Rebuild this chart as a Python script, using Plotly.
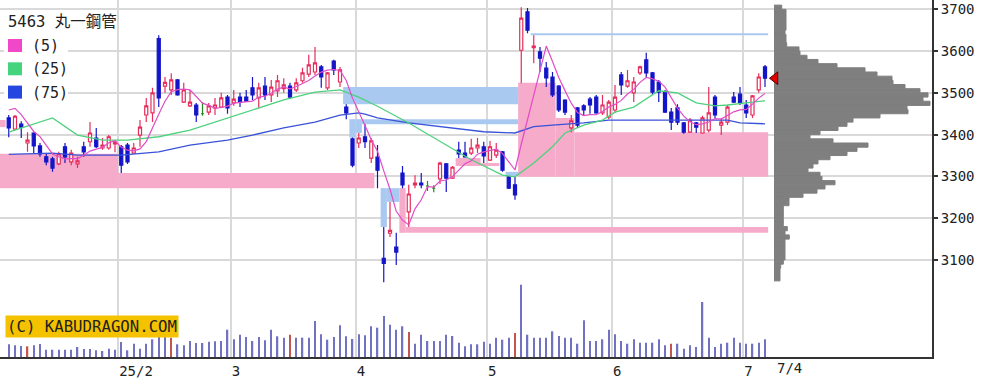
import plotly.graph_objects as go

# ---------------- data ----------------
opens = [3440,3413,3425,3380,3404,3373,3347,3342,3330,3371,
         3335,3330,3371,3383,3392,3368,3368,3378,3371,3375,
         3356,3399,3447,3452,3630,3516,3507,3531,3478,3469,
         3471,3450,3454,3464,3466,3490,3476,3490,3490,3512,
         3488,3516,3495,3505,3510,3516,3507,3529,3545,3550,
         3562,3512,3576,3526,3466,3390,3380,3395,3344,3346,
         3104,3164,3131,3308,3215,3280,3284,3277,3272,3294,
         3330,3296,3363,3356,3356,3368,3371,3339,3351,3359,
         3299,3280,3602,3694,3608,3598,3559,3538,3516,3483,
         3416,3464,3469,3485,3490,3452,3442,3459,3543,3516,
         3500,3548,3579,3548,3526,3502,3454,3464,3428,3406,
         3428,3404,3411,3490,3423,3430,3490,3497,3471,3447,
         3507,3562]
highs = [3447,3447,3432,3406,3406,3380,3356,3347,3359,3380,
         3364,3347,3383,3430,3416,3392,3399,3385,3375,3380,
         3380,3435,3488,3512,3638,3538,3547,3533,3524,3507,
         3476,3478,3476,3488,3500,3495,3507,3500,3507,3538,
         3524,3538,3531,3543,3535,3524,3535,3560,3591,3610,
         3567,3550,3579,3562,3473,3393,3404,3425,3392,3375,
         3179,3239,3165,3325,3280,3303,3308,3289,3279,3335,
         3332,3325,3383,3383,3390,3392,3383,3385,3380,3361,
         3301,3299,3705,3703,3638,3610,3574,3550,3519,3485,
         3447,3466,3473,3490,3495,3495,3483,3519,3550,3555,
         3538,3565,3596,3550,3531,3507,3464,3473,3430,3440,
         3430,3445,3514,3495,3440,3471,3502,3514,3483,3495,
         3547,3567]
lows = [3394,3411,3392,3359,3356,3347,3327,3311,3327,3332,
        3327,3320,3347,3371,3368,3364,3364,3358,3308,3330,
        3354,3371,3430,3430,3466,3500,3495,3493,3476,3466,
        3430,3445,3447,3447,3464,3450,3469,3466,3478,3483,
        3464,3483,3478,3490,3500,3486,3502,3524,3538,3543,
        3512,3507,3543,3514,3437,3322,3368,3368,3332,3272,
        3047,3155,3088,3272,3179,3272,3272,3265,3262,3282,
        3263,3294,3344,3345,3351,3356,3332,3337,3344,3311,
        3270,3244,3523,3643,3571,3550,3514,3490,3454,3447,
        3406,3416,3447,3450,3450,3447,3437,3452,3495,3512,
        3478,3543,3538,3495,3478,3452,3411,3423,3402,3404,
        3404,3402,3406,3440,3399,3423,3476,3471,3440,3440,
        3500,3514]
closes = [3416,3444,3418,3387,3373,3354,3335,3320,3354,3347,
          3356,3337,3359,3404,3371,3375,3395,3382,3327,3335,
          3368,3418,3469,3500,3488,3525,3531,3495,3507,3478,
          3447,3450,3469,3471,3488,3464,3485,3478,3480,3495,
          3512,3495,3514,3529,3519,3490,3524,3548,3567,3572,
          3538,3548,3555,3555,3452,3327,3392,3383,3385,3315,
          3092,3171,3119,3280,3258,3284,3280,3277,3272,3332,
          3296,3322,3354,3347,3368,3375,3349,3371,3363,3315,
          3272,3256,3679,3650,3612,3583,3536,3495,3459,3454,
          3433,3423,3459,3471,3452,3471,3478,3490,3519,3529,
          3526,3562,3548,3502,3502,3454,3430,3430,3406,3435,
          3418,3440,3452,3447,3430,3466,3478,3476,3452,3493,
          3538,3535]

# volume (thousand shares)
volumes = [127,117,110,107,117,130,73,73,73,73,
           73,100,80,80,67,60,83,73,150,67,
           133,83,133,177,217,210,193,127,117,160,
           140,140,153,157,160,273,177,223,200,160,
           200,167,273,207,193,223,193,193,193,360,
           227,173,200,317,207,180,227,217,307,293,
           410,323,273,307,250,133,223,160,160,160,
           223,210,143,107,127,127,153,133,193,173,
           193,240,723,223,193,193,193,257,210,193,
           193,133,367,160,160,177,273,227,160,133,
           177,143,143,143,177,117,133,133,83,117,
           100,550,193,100,133,143,193,143,133,133,
           143,177]
volume_red_days = [3, 26, 45, 64, 81, 106]

# moving averages
ma5 = [3459,3463,3448,3428,3407.6,3395.2,3373.4,3353.8,3347.2,3342,
       3342.4,3342.8,3350.6,3360.6,3365.4,3369.2,3380.8,3385.4,3370,3362.8,
       3361.4,3366,3383.4,3418,3448.6,3480,3502.6,3507.8,3509.2,3507.2,
       3491.6,3475.4,3470.2,3463,3465,3468.4,3475.4,3477.2,3479,3480.4,
       3490,3492,3499.2,3509,3513.8,3509.4,3515.2,3522,3529.6,3540.2,
       3549.8,3554.6,3556,3553.6,3529.6,3487.4,3456.2,3421.8,3387.8,3360.4,
       3313.4,3269.2,3216.4,3195.4,3184,3222.4,3244.2,3275.8,3274.2,3289,
       3291.4,3299.8,3315.2,3330.2,3337.4,3353.2,3358.6,3362,3365.2,3354.6,
       3334,3315.4,3377,3434.4,3493.8,3556,3612,3575.2,3537,3505.4,
       3475.4,3452.8,3445.6,3448,3447.6,3455.2,3466.2,3472.4,3482,3497.4,
       3508.4,3525.2,3536.8,3533.4,3528,3513.6,3487.2,3463.6,3444.4,3431,
       3423.8,3425.8,3430.2,3438.4,3437.4,3447,3454.6,3459.4,3460.4,3473,
       3487.4,3498.8]
ma25_days = [0,3,7,11,15,19,24,29,35,39,44,49,53,56,59,64,69,74,79,81,
             84,87,89,92,95,97,100,104,107,110,113,115,118,121]
ma25_vals = [3406,3420,3440,3399,3387,3387,3395,3411,3440,3458,3483,3502,3507,3490,3468,
             3428,3383,3340,3303,3299,3332,3371,3404,3423,3435,3454,3466,3505,3500,3476,
             3469,3471,3476,3481]
ma75_days = [0,7,11,18,24,29,35,39,44,49,53,56,57,59,64,71,76,81,84,87,92,96,115,117,121]
ma75_vals = [3353,3356,3351,3351,3359,3375,3387,3399,3416,3430,3447,3452,3449,3440,3428,
             3416,3407,3404,3419,3423,3428,3435,3435,3428,3426]

# price-by-volume profile
profile_prices = [3705,3695,3685,3675,3665,3655,3645,3635,3625,3615,
                  3605,3595,3585,3575,3565,3555,3545,3535,3525,3515,
                  3505,3495,3485,3475,3465,3455,3445,3435,3425,3415,
                  3405,3395,3385,3375,3365,3355,3345,3335,3325,3315,
                  3305,3295,3285,3275,3265,3255,3245,3235,3225,3215,
                  3205,3195,3185,3175,3165,3155,3145,3135,3125,3115,
                  3105,3095,3085,3075,3065,3055]
profile_volume = [7.7,12,12,12,12,12,11,12,12,12.7,
                  25,26,33,44,63,91,103,118,119,131,
                  146,154,149,156,133,134,106,79,73,64,
                  46,36,59,94,83,73,56,44,39,34,
                  46,48,61,51,43,29,15,15,9.3,9.3,
                  9.3,9.3,9.3,13.3,11,15.3,11,11,11,11,
                  11,9.3,6.7,6,6,6]

# price gaps (windows): start day, end day, low, high
gaps_up = [(-1.4, -0.5, 3418, 3435), (-1.4, 17.5, 3272, 3354), (17.5, 58.5, 3272, 3308),
           (62.5, 63.5, 3165, 3272), (63.5, 121.5, 3165, 3179), (71.5, 75.5, 3325, 3344),
           (75.5, 78.5, 3325, 3332), (81.5, 87.5, 3299, 3524), (87.5, 90.5, 3299, 3440),
           (90.5, 121.5, 3299, 3406)]
gaps_down = [(53.5, 81.5, 3473, 3514), (54.5, 55.5, 3393, 3437), (55.5, 56.5, 3404, 3437),
             (56.5, 81.5, 3425, 3437), (59.5, 60.5, 3179, 3272), (60.5, 62.5, 3239, 3272),
             (79.5, 81.5, 3301, 3311), (83.5, 121.5, 3638, 3643)]

month_bounds = [17.5, 35.5, 55.5, 76.5, 96.5, 117.5]
month_labels = ['25/2', '3', '4', '5', '6', '7']
last_date_label = '7/4'
price_ticks = [3100, 3200, 3300, 3400, 3500, 3600, 3700]
title_text = '5463 丸一鋼管'
ma_labels = ['(5)', '(25)', '(75)']
copyright_text = '(C) KABUDRAGON.COM'

# ---------------- style ----------------
RED = '#e62d5c'
BLUE = '#1414c8'
GREEN = '#1f8a1f'
MA5_C = '#e24cc6'
MA25_C = '#4ed27e'
MA75_C = '#3a52d8'
GRID = '#d9d9d9'
PROFILE_C = '#7f7f7f'
MONO = 'DejaVu Sans Mono, Noto Sans CJK JP'

PW, PH = 932, 357  # plot area in px


def px_x(p):
    return p / PW


def px_y(p):
    return 1 - p / PH


N = len(closes)
days = list(range(N))

fig = go.Figure()

# volume
vol_colors = ['#c0564e' if d in volume_red_days else '#7272c2' for d in days]
fig.add_trace(go.Bar(x=days, y=volumes, yaxis='y2', width=0.24,
                     marker=dict(color=vol_colors, line=dict(width=0)), hoverinfo='skip'))

# moving averages
fig.add_trace(go.Scatter(x=ma75_days, y=ma75_vals, mode='lines',
                         line=dict(color=MA75_C, width=1.3), hoverinfo='skip'))
fig.add_trace(go.Scatter(x=ma25_days, y=ma25_vals, mode='lines',
                         line=dict(color=MA25_C, width=1.3), hoverinfo='skip'))
fig.add_trace(go.Scatter(x=days, y=ma5, mode='lines',
                         line=dict(color=MA5_C, width=1.2), hoverinfo='skip'))


def candles(sel, inc_line, inc_fill, dec_line, dec_fill):
    return go.Candlestick(
        x=sel,
        open=[opens[i] for i in sel], high=[highs[i] for i in sel],
        low=[lows[i] for i in sel], close=[closes[i] for i in sel],
        increasing=dict(line=dict(color=inc_line, width=1.2), fillcolor=inc_fill),
        decreasing=dict(line=dict(color=dec_line, width=1.2), fillcolor=dec_fill),
        whiskerwidth=0, hoverinfo='skip')


up = [i for i in days if closes[i] > opens[i]]
down = [i for i in days if closes[i] < opens[i]]
doji = [i for i in days if closes[i] == opens[i]]
fig.add_trace(candles(up, RED, 'white', RED, 'white'))
fig.add_trace(candles(down, BLUE, BLUE, BLUE, BLUE))
fig.add_trace(candles(doji, GREEN, GREEN, GREEN, GREEN))

# price-by-volume profile
fig.add_trace(go.Bar(y=profile_prices, x=profile_volume, orientation='h', xaxis='x2', yaxis='y',
                     width=10, marker=dict(color=PROFILE_C, line=dict(width=1, color=PROFILE_C)),
                     hoverinfo='skip'))

# last close marker
fig.add_trace(go.Scatter(x=[1], y=[closes[-1]], xaxis='x2', yaxis='y', mode='markers',
                         marker=dict(symbol='triangle-left', size=11, color='#e00000',
                                     line=dict(color='#5a0000', width=1)),
                         cliponaxis=False, hoverinfo='skip'))

shapes = []
for x0, x1, lo, hi in gaps_up:
    shapes.append(dict(type='rect', xref='x', yref='y', x0=x0, x1=x1, y0=lo, y1=hi,
                       fillcolor='#f5abc9', line=dict(width=0), layer='between'))
for x0, x1, lo, hi in gaps_down:
    shapes.append(dict(type='rect', xref='x', yref='y', x0=x0, x1=x1, y0=lo, y1=hi,
                       fillcolor='#aac9f1', line=dict(width=0), layer='between'))

# legend panel
shapes.append(dict(type='rect', xref='paper', yref='paper', x0=px_x(4), x1=px_x(68),
                   y0=px_y(101), y1=px_y(34), fillcolor='white', line=dict(width=0), layer='above'))
for k, col in enumerate(['#f048c8', '#45d47e', '#2547e0']):
    top = 39 + k * 23.3
    shapes.append(dict(type='rect', xref='paper', yref='paper', x0=px_x(8), x1=px_x(22),
                       y0=px_y(top + 13), y1=px_y(top), fillcolor=col, line=dict(width=0),
                       layer='above'))

annotations = [
    dict(text=title_text, xref='paper', yref='paper', x=px_x(6), y=px_y(11),
         xanchor='left', yanchor='top', showarrow=False,
         font=dict(family=MONO, size=15.5, color='#222')),
    dict(text=copyright_text, xref='paper', yref='paper', x=px_x(5), y=px_y(326),
         xanchor='left', yanchor='middle', showarrow=False, bgcolor='#f5c200', borderpad=1,
         font=dict(family=MONO, size=15.7, color='#222')),
    dict(text=last_date_label, xref='x', yref='paper', x=days[-1], y=0, xshift=10, yshift=-1,
         xanchor='left', yanchor='top', showarrow=False,
         font=dict(family=MONO, size=14, color='#222')),
]
for k, lab in enumerate(ma_labels):
    annotations.append(dict(text=lab, xref='paper', yref='paper', x=px_x(30), y=px_y(46 + k * 23.3),
                            xanchor='left', yanchor='middle', showarrow=False,
                            font=dict(family=MONO, size=15, color='#222')))

fig.update_layout(
    width=1000, height=381, margin=dict(l=0, r=68, t=0, b=24, pad=0),
    paper_bgcolor='white', plot_bgcolor='white', showlegend=False,
    shapes=shapes, annotations=annotations,
    xaxis=dict(range=[-1.4, 147.72], zeroline=False, showline=True, linecolor='#333', linewidth=2,
               tickmode='array', tickvals=month_bounds, ticktext=month_labels, ticks='',
               ticklabelposition='outside right', ticklabelstandoff=0,
               tickfont=dict(family=MONO, size=14, color='#222'),
               showgrid=True, gridcolor=GRID, gridwidth=1.5,
               rangeslider=dict(visible=False), fixedrange=True),
    xaxis2=dict(domain=[774 / PW, 1], range=[0, 158], anchor='y', visible=False, fixedrange=True),
    yaxis=dict(range=[2867.8, 3722.3], side='right', tickmode='array', tickvals=price_ticks,
               ticks='outside', ticklen=4, tickwidth=1.5, tickcolor='#333',
               showline=True, linecolor='#333', linewidth=2, zeroline=False,
               showgrid=True, gridcolor=GRID, gridwidth=1.5,
               tickfont=dict(family=MONO, size=14, color='#222'), fixedrange=True),
    yaxis2=dict(overlaying='y', range=[0, 3570], visible=False, fixedrange=True),
)

fig.write_html('out.html')
